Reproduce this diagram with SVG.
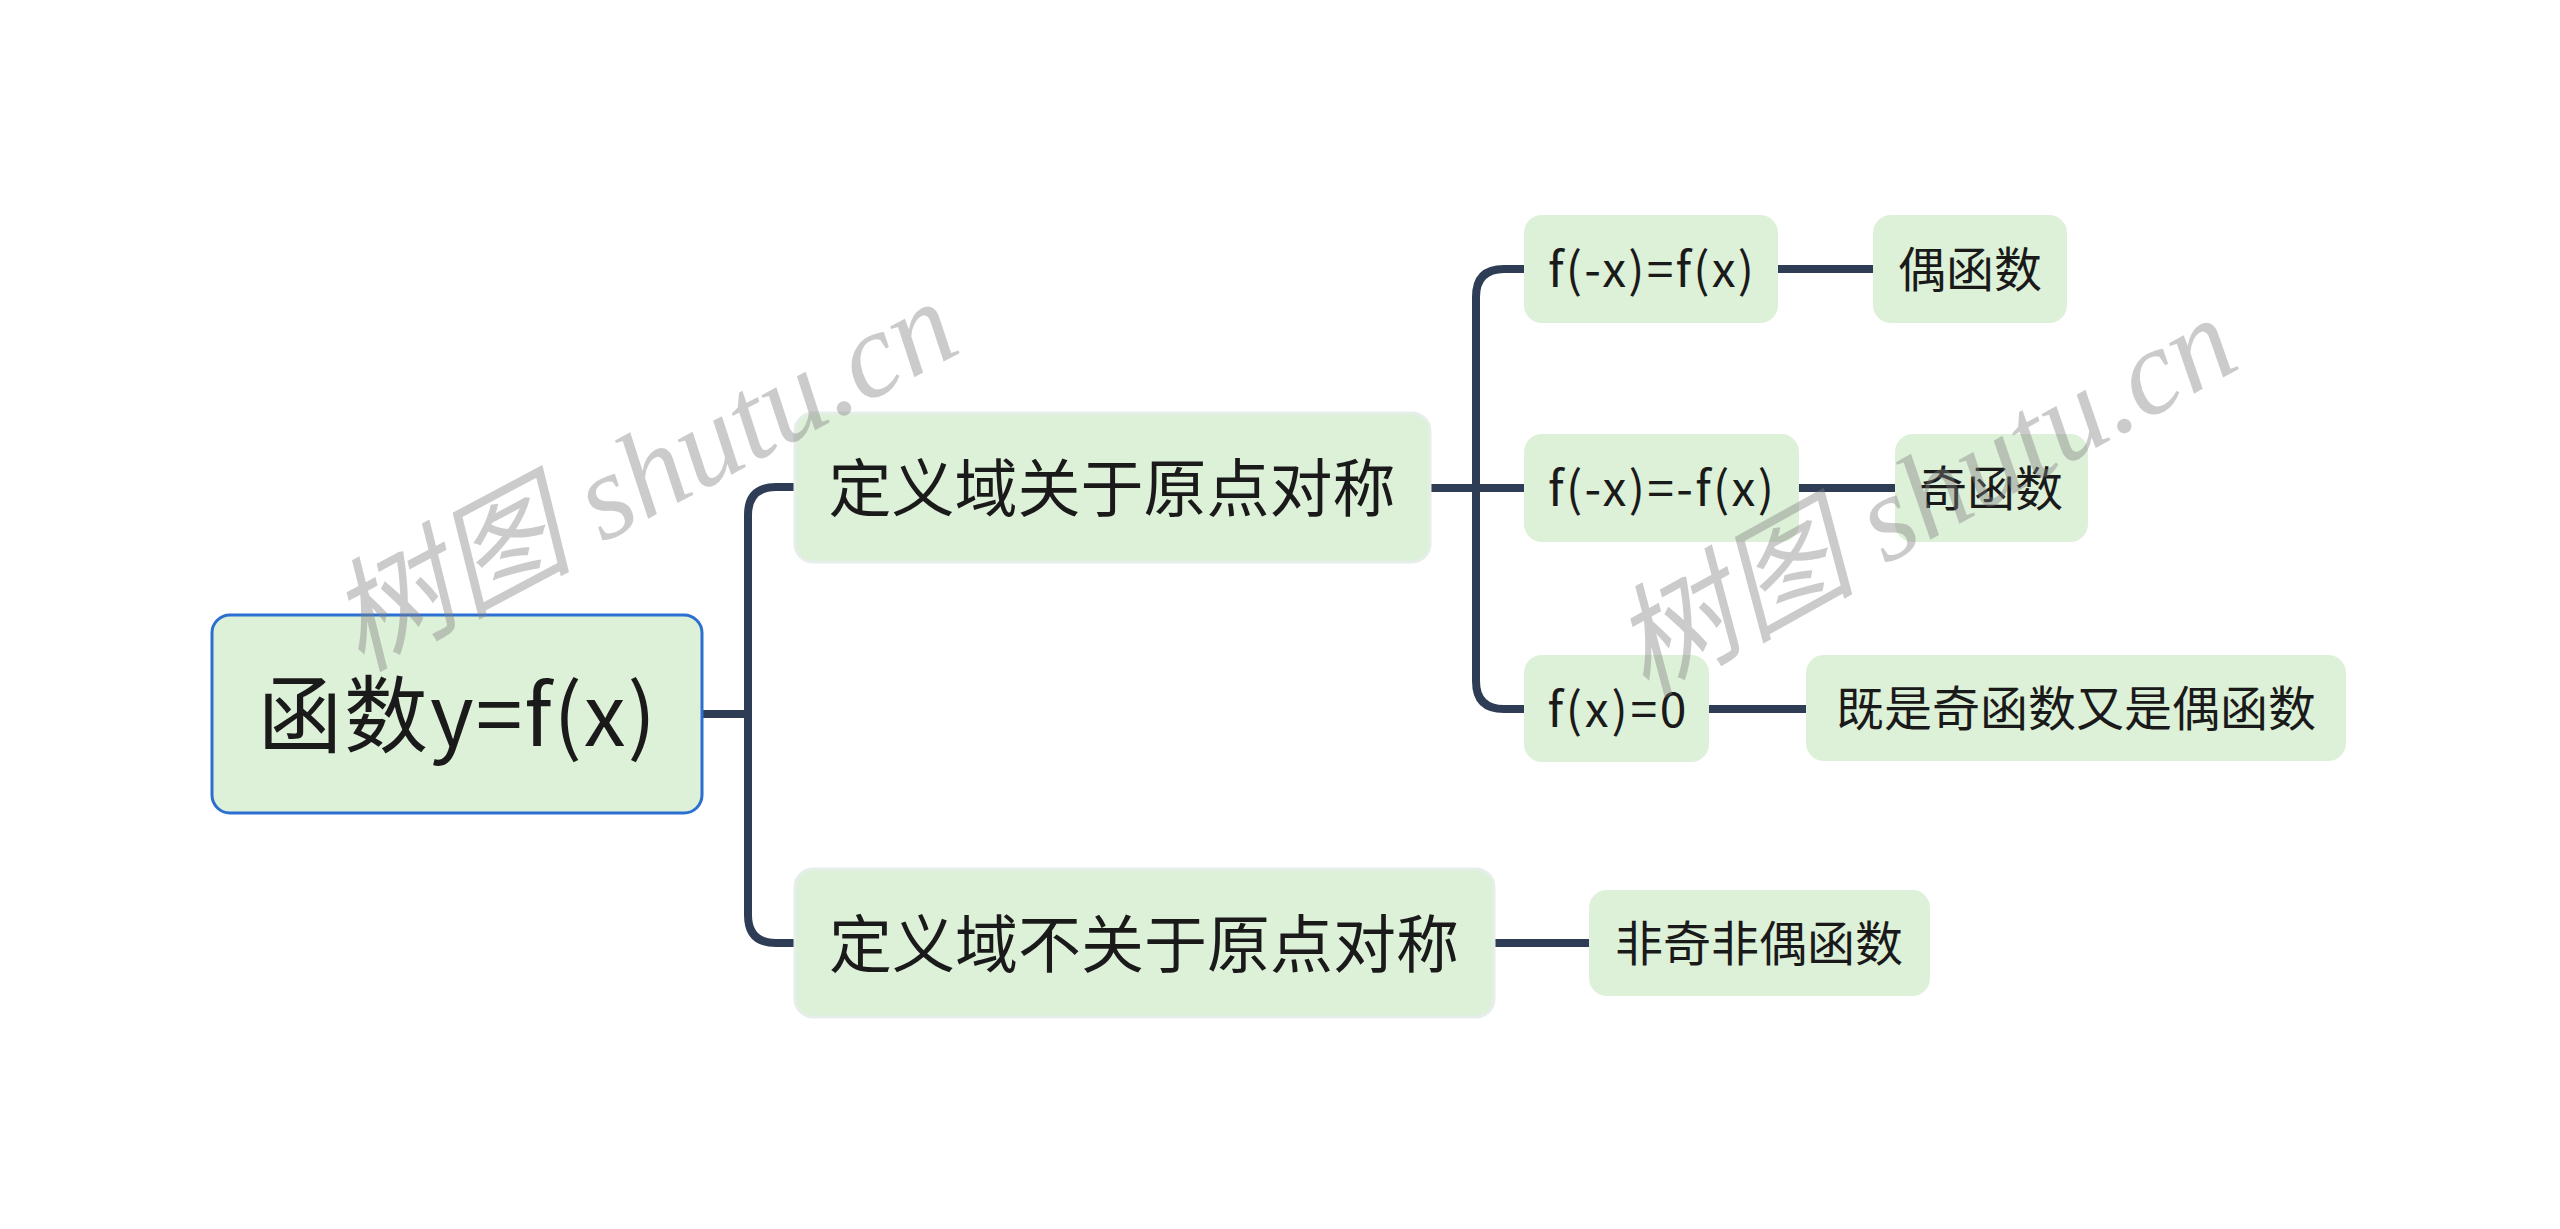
<svg xmlns="http://www.w3.org/2000/svg" width="2560" height="1229" viewBox="0 0 2560 1229">
<style>
.box{fill:#ddf0d8}
.root{stroke:#2b6fd1;stroke-width:3}
.l1{stroke:#e6eeea;stroke-width:3}
.t{font-family:"Noto Sans CJK SC","Noto Sans",sans-serif;fill:#1a1a1a;text-anchor:middle}
.con{fill:none;stroke:#2e3d55;stroke-width:8}
.wm{font-family:"Liberation Serif","Noto Sans CJK SC",serif;font-style:italic;fill:#808080;opacity:0.4;font-size:122px}
</style>
<rect width="2560" height="1229" fill="#ffffff"/>
<g id="connectors">
<path class="con" d="M702 714 H748"/>
<path class="con" d="M795 487 H776 Q748 487 748 515 V915 Q748 943 776 943 H795"/>
<path class="con" d="M1430 488 H1476"/>
<path class="con" d="M1524 269 H1504 Q1476 269 1476 297 V681 Q1476 709 1504 709 H1524"/>
<path class="con" d="M1476 488 H1524"/>
<path class="con" d="M1778 269 H1873"/>
<path class="con" d="M1799 488 H1895"/>
<path class="con" d="M1709 709 H1806"/>
<path class="con" d="M1494 943 H1589"/>
</g>
<g id="root">
<rect class="box root" x="212" y="615" width="490" height="198" rx="18"/>
<text class="t" x="457" y="746" font-size="84" textLength="398" lengthAdjust="spacing">函数y=f(x)</text>
</g>
<g id="nodeA">
<rect class="box l1" x="795" y="413" width="635" height="149" rx="18"/>
<text class="t" x="1112" y="511" font-size="63">定义域关于原点对称</text>
</g>
<g id="nodeB">
<rect class="box l1" x="795" y="869" width="699" height="148" rx="18"/>
<text class="t" x="1144" y="967" font-size="63">定义域不关于原点对称</text>
</g>
<g id="nodeC">
<rect class="box" x="1524" y="215" width="254" height="108" rx="18"/>
<text class="t" x="1651" y="287" font-size="48" textLength="206" lengthAdjust="spacing">f(-x)=f(x)</text>
</g>
<g id="nodeD">
<rect class="box" x="1524" y="434" width="275" height="108" rx="18"/>
<text class="t" x="1661" y="506" font-size="48" textLength="226" lengthAdjust="spacing">f(-x)=-f(x)</text>
</g>
<g id="nodeE">
<rect class="box" x="1524" y="655" width="185" height="107" rx="18"/>
<text class="t" x="1617" y="727" font-size="48" textLength="139" lengthAdjust="spacing">f(x)=0</text>
</g>
<g id="nodeF">
<rect class="box" x="1873" y="215" width="194" height="108" rx="18"/>
<text class="t" x="1970" y="287" font-size="48">偶函数</text>
</g>
<g id="nodeG">
<rect class="box" x="1895" y="434" width="193" height="108" rx="18"/>
<text class="t" x="1991" y="506" font-size="48">奇函数</text>
</g>
<g id="nodeH">
<rect class="box" x="1806" y="655" width="540" height="106" rx="18"/>
<text class="t" x="2076" y="726" font-size="48">既是奇函数又是偶函数</text>
</g>
<g id="nodeI">
<rect class="box" x="1589" y="890" width="341" height="106" rx="18"/>
<text class="t" x="1759" y="961" font-size="48">非奇非偶函数</text>
</g>
<g id="watermarks">
<text class="wm" transform="translate(360 672) rotate(-28)">树图 shutu.cn</text>
<text class="wm" transform="translate(1645 698) rotate(-29)">树图 shutu.cn</text>
</g>
</svg>
